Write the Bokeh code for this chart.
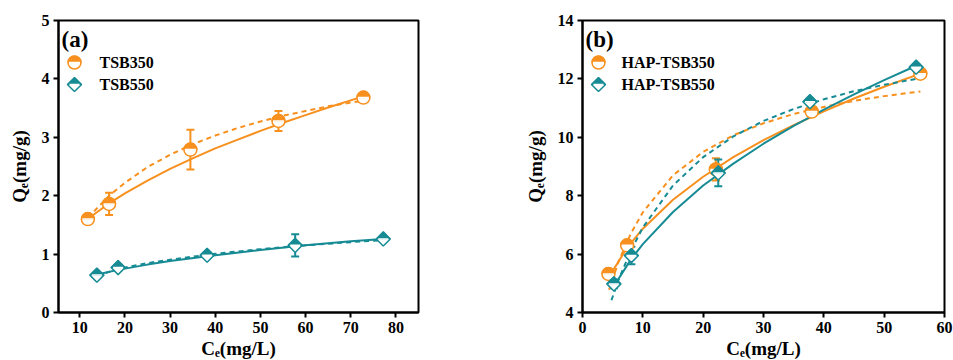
import numpy as np
from bokeh.plotting import figure
from bokeh.layouts import row
from bokeh.models import Whisker, ColumnDataSource, Label, TeeHead, Range1d, FixedTicker
from bokeh.embed import file_html
from bokeh.resources import INLINE

ORANGE = "#F7901E"
TEAL = "#168B94"
FONT = "Liberation Serif"

# ---------------- Panel (a) data ----------------
a_x350 = [11.8, 16.5, 34.5, 54.0, 72.8]
a_y350 = [1.60, 1.86, 2.79, 3.28, 3.68]
a_e350 = [0.05, 0.19, 0.34, 0.17, 0.04]
a_x550 = [13.8, 18.5, 38.2, 57.7, 77.2]
a_y550 = [0.64, 0.77, 0.98, 1.15, 1.26]
a_e550 = [0.04, 0.05, 0.04, 0.19, 0.03]

a_fx350 = [11.8, 16.5, 20, 25, 30, 35, 40, 45, 50, 55, 60, 65, 72.8]
a_fs350 = [1.60, 1.87, 2.04, 2.26, 2.46, 2.64, 2.81, 2.96, 3.11, 3.25, 3.38, 3.51, 3.70]
a_fd350 = [1.62, 2.00, 2.22, 2.49, 2.70, 2.88, 3.03, 3.16, 3.27, 3.37, 3.45, 3.53, 3.63]
a_fx550 = [13.8, 18.5, 25, 30, 40, 50, 60, 70, 77.2]
a_fs550 = [0.65, 0.73, 0.82, 0.88, 0.98, 1.07, 1.15, 1.22, 1.26]
a_fd550 = [0.63, 0.745, 0.845, 0.905, 1.005, 1.085, 1.15, 1.205, 1.24]

a_xticks = [10, 20, 30, 40, 50, 60, 70, 80]
a_yticks = [0, 1, 2, 3, 4, 5]

# ---------------- Panel (b) data ----------------
b_x350 = [4.3, 7.4, 22.1, 38.0, 56.0]
b_y350 = [5.32, 6.30, 8.90, 10.88, 12.18]
b_e350 = [0.10, 0.12, 0.38, 0.12, 0.15]
b_x550 = [5.2, 8.1, 22.5, 37.7, 55.3]
b_y550 = [4.98, 5.95, 8.78, 11.22, 12.40]
b_e550 = [0.15, 0.30, 0.46, 0.10, 0.10]

b_fxs350 = [4.3, 7.4, 10, 15, 20, 25, 30, 35, 40, 45, 50, 56]
b_fs350 = [5.19, 6.22, 6.87, 7.86, 8.65, 9.32, 9.90, 10.42, 10.89, 11.33, 11.73, 12.18]
b_fxd350 = [4.4, 6, 8, 10, 15, 20, 25, 30, 35, 40, 45, 50, 56]
b_fd350 = [4.78, 5.76, 6.70, 7.43, 8.70, 9.50, 10.07, 10.48, 10.80, 11.04, 11.25, 11.41, 11.57]
b_fxs550 = [5.2, 8, 10, 15, 20, 25, 30, 35, 40, 45, 50, 55.3]
b_fs550 = [4.90, 5.81, 6.34, 7.44, 8.35, 9.10, 9.78, 10.39, 10.95, 11.47, 11.96, 12.45]
b_fxd550 = [4.8, 6, 8, 10, 15, 20, 25, 30, 35, 40, 45, 50, 55.3]
b_fd550 = [4.42, 5.13, 6.11, 6.91, 8.35, 9.32, 10.03, 10.56, 10.97, 11.30, 11.58, 11.80, 12.00]

b_xticks = [0, 10, 20, 30, 40, 50, 60]
b_yticks = [4, 6, 8, 10, 12, 14]


def make_fig(xr, yr, xticks, yticks, fw, fh, ml, mr, mt, mb):
    p = figure(frame_width=fw, frame_height=fh,
               x_range=Range1d(*xr), y_range=Range1d(*yr),
               output_backend="svg", toolbar_location=None,
               min_border_left=ml, min_border_right=mr,
               min_border_top=mt, min_border_bottom=mb,
               background_fill_color="white", border_fill_color="white")
    p.xgrid.visible = False
    p.ygrid.visible = False
    p.outline_line_color = "black"
    p.outline_line_width = 2
    p.xaxis.ticker = FixedTicker(ticks=xticks)
    p.yaxis.ticker = FixedTicker(ticks=yticks)
    for ax in (p.xaxis[0], p.yaxis[0]):
        ax.axis_line_width = 2
        ax.axis_line_color = "black"
        ax.major_tick_line_width = 2
        ax.major_tick_out = 5
        ax.major_tick_in = 0
        ax.minor_tick_out = 0
        ax.minor_tick_in = 0
        ax.major_label_text_font = FONT
        ax.major_label_text_font_style = "bold"
        ax.major_label_text_font_size = "16px"
        ax.major_label_text_color = "black"
        ax.major_label_standoff = 4
        ax.axis_label_text_font = FONT
        ax.axis_label_text_font_style = "bold"
        ax.axis_label_text_font_size = "19px"
        ax.axis_label_text_color = "black"
    p.xaxis.axis_label = "Cₑ(mg/L)"
    p.yaxis.axis_label = "Qₑ(mg/g)"
    p.xaxis.axis_label_standoff = 2
    p.yaxis.axis_label_standoff = 9
    return p


def half_circles(p, x, y, color):
    p.scatter(x, y, marker="circle", size=13, fill_color="white",
              line_color=color, line_width=1.5)
    p.wedge(x, y, radius=6.5, radius_units="screen", start_angle=0,
            end_angle=np.pi, fill_color=color, line_color=color, line_width=1)
    p.scatter(x, y, marker="dash", size=11, line_color="white", line_width=1.5)


def half_diamonds(p, x, y, color, dx, dy):
    p.scatter(x, y, marker="square", angle=np.pi / 4, size=10, fill_color="white",
              line_color=color, line_width=1.5)
    w, h = 7 * dx, 7 * dy
    xs = [[xi - w, xi + w, xi] for xi in x]
    ys = [[yi, yi, yi + h] for yi in y]
    p.patches(xs, ys, fill_color=color, line_color=color, line_width=1)
    p.scatter(x, y, marker="dash", size=10, line_color="white", line_width=1.5)


def errbars(p, x, y, e, color):
    src = ColumnDataSource(dict(x=x, up=[a + b for a, b in zip(y, e)],
                                lo=[a - b for a, b in zip(y, e)]))
    wk = Whisker(source=src, base="x", upper="up", lower="lo",
                 line_color=color, line_width=2,
                 upper_head=TeeHead(size=8, line_color=color, line_width=2),
                 lower_head=TeeHead(size=8, line_color=color, line_width=2))
    p.add_layout(wk)


def build(xr, yr, xticks, yticks, fw, fh, ml, mr, mt, mb, tag,
          names, pts, fits, leg_text_x):
    p = make_fig(xr, yr, xticks, yticks, fw, fh, ml, mr, mt, mb)
    dx = (xr[1] - xr[0]) / fw
    dy = (yr[1] - yr[0]) / fh
    # fits
    for fx, fy, color, dash in fits:
        p.line(fx, fy, line_color=color, line_width=2,
               line_dash="5 4" if dash else "solid")
    # error bars + markers
    (x1, y1, e1), (x2, y2, e2) = pts
    errbars(p, x1, y1, e1, ORANGE)
    errbars(p, x2, y2, e2, TEAL)
    half_circles(p, x1, y1, ORANGE)
    half_diamonds(p, x2, y2, TEAL, dx, dy)
    # panel tag
    p.add_layout(Label(x=3, y=fh - 6, x_units="screen", y_units="screen",
                       text=tag, text_baseline="top", text_font=FONT,
                       text_font_style="bold", text_font_size="23px",
                       text_color="black"))
    # legend (positions in frame pixels converted to data)
    lx = xr[0] + 16 * dx
    ly1 = yr[1] - 42 * dy
    ly2 = yr[1] - 64 * dy
    half_circles(p, [lx], [ly1], ORANGE)
    half_diamonds(p, [lx], [ly2], TEAL, dx, dy)
    for txt, py in ((names[0], 42), (names[1], 64)):
        p.add_layout(Label(x=leg_text_x, y=fh - py, x_units="screen", y_units="screen",
                           text=txt, text_baseline="middle", text_font=FONT,
                           text_font_style="bold", text_font_size="16px",
                           text_color="black"))
    return p


pa = build((5.3, 85), (0, 5), a_xticks, a_yticks, 360, 292, 58, 58, 20, 48, "(a)",
           ["TSB350", "TSB550"],
           [(a_x350, a_y350, a_e350), (a_x550, a_y550, a_e550)],
           [(a_fx350, a_fs350, ORANGE, False), (a_fx350, a_fd350, ORANGE, True),
            (a_fx550, a_fs550, TEAL, False), (a_fx550, a_fd550, TEAL, True)],
           41)

pb = build((0, 60), (4, 14), b_xticks, b_yticks, 362, 292, 106, 9, 20, 48, "(b)",
           ["HAP-TSB350", "HAP-TSB550"],
           [(b_x350, b_y350, b_e350), (b_x550, b_y550, b_e550)],
           [(b_fxs350, b_fs350, ORANGE, False), (b_fxd350, b_fd350, ORANGE, True),
            (b_fxs550, b_fs550, TEAL, False), (b_fxd550, b_fd550, TEAL, True)],
           39)

layout = row(pa, pb)
open("out.html", "w").write(file_html(layout, INLINE))
